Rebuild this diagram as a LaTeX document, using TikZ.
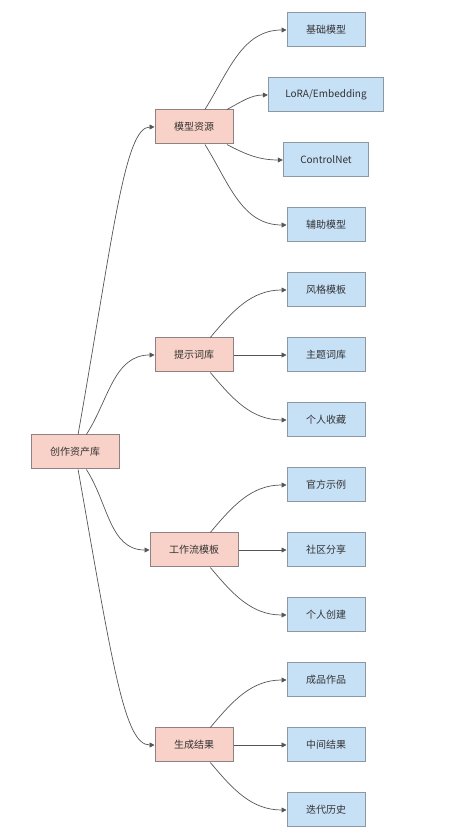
\documentclass[tikz,border=0pt]{standalone}
\usepackage{fontspec}
\newfontfamily\cjk{Noto Sans CJK SC}
\usetikzlibrary{arrows.meta}

\definecolor{hubfill}{HTML}{F8D2C8}
\definecolor{hubline}{HTML}{8E8280}
\definecolor{leaffill}{HTML}{C6E0F6}
\definecolor{leafline}{HTML}{8C99A4}
\definecolor{linkgray}{HTML}{555555}
\definecolor{txt}{HTML}{333333}

\begin{document}
\begin{tikzpicture}[x=1pt,y=1pt,
    box/.style={draw,line width=1pt,font=\cjk\fontsize{10}{12}\selectfont,text=txt,
                inner xsep=19pt,minimum height=34pt},
    hub/.style={box,fill=hubfill,draw=hubline},
    leaf/.style={box,fill=leaffill,draw=leafline,inner xsep=17pt,minimum width=78pt},
    link/.style={draw=linkgray,line width=0.7pt,-{Triangle[length=5pt,width=5pt]}}]
        \useasboundingbox (0,0) rectangle (454,840);

        \node[hub] (root) at (75,388) {创作资产库};

        \node[hub] (model) at (194,713) {模型资源};
        \node[hub] (prompt) at (194,485) {提示词库};
        \node[hub] (flow) at (194,290) {工作流模板};
        \node[hub] (result) at (194,95) {生成结果};

        \node[leaf] (base) at (326,810) {基础模型};
        \node[leaf] (lora) at (326,745) {LoRA/Embedding};
        \node[leaf] (cnet) at (326,680) {ControlNet};
        \node[leaf] (aux) at (326,615) {辅助模型};
        \node[leaf] (style) at (326,550) {风格模板};
        \node[leaf] (theme) at (326,485) {主题词库};
        \node[leaf] (fav) at (326,420) {个人收藏};
        \node[leaf] (official) at (326,355) {官方示例};
        \node[leaf] (share) at (326,290) {社区分享};
        \node[leaf] (own) at (326,225) {个人创建};
        \node[leaf] (final) at (326,160) {成品作品};
        \node[leaf] (middle) at (326,95) {中间结果};
        \node[leaf] (history) at (326,30) {迭代历史};

        % root to hubs
        \draw[link] (root.80) to[out=80,in=180,out distance=200pt,in distance=30pt] (model.west);
        \draw[link] (root.57) to[out=57,in=180] (prompt.west);
        \draw[link] (root.-57) to[out=-57,in=180] (flow.west);
        \draw[link] (root.-80) to[out=-80,in=180,out distance=200pt,in distance=30pt] (result.west);

        % hubs to leaves
        \draw[link] (model.58) to[out=58,in=180] (base.west);
        \draw[link] (model.28) to[out=28,in=180] (lora.west);
        \draw[link] (model.-28) to[out=-28,in=180] (cnet.west);
        \draw[link] (model.-58) to[out=-58,in=180] (aux.west);

        \draw[link] (prompt.47) to[out=50,in=180] (style.west);
        \draw[link] (prompt.east) -- (theme.west);
        \draw[link] (prompt.-47) to[out=-50,in=180] (fav.west);

        \draw[link] (flow.47) to[out=50,in=180] (official.west);
        \draw[link] (flow.east) -- (share.west);
        \draw[link] (flow.-47) to[out=-50,in=180] (own.west);

        \draw[link] (result.47) to[out=50,in=180] (final.west);
        \draw[link] (result.east) -- (middle.west);
        \draw[link] (result.-47) to[out=-50,in=180] (history.west);
\end{tikzpicture}
\end{document}
